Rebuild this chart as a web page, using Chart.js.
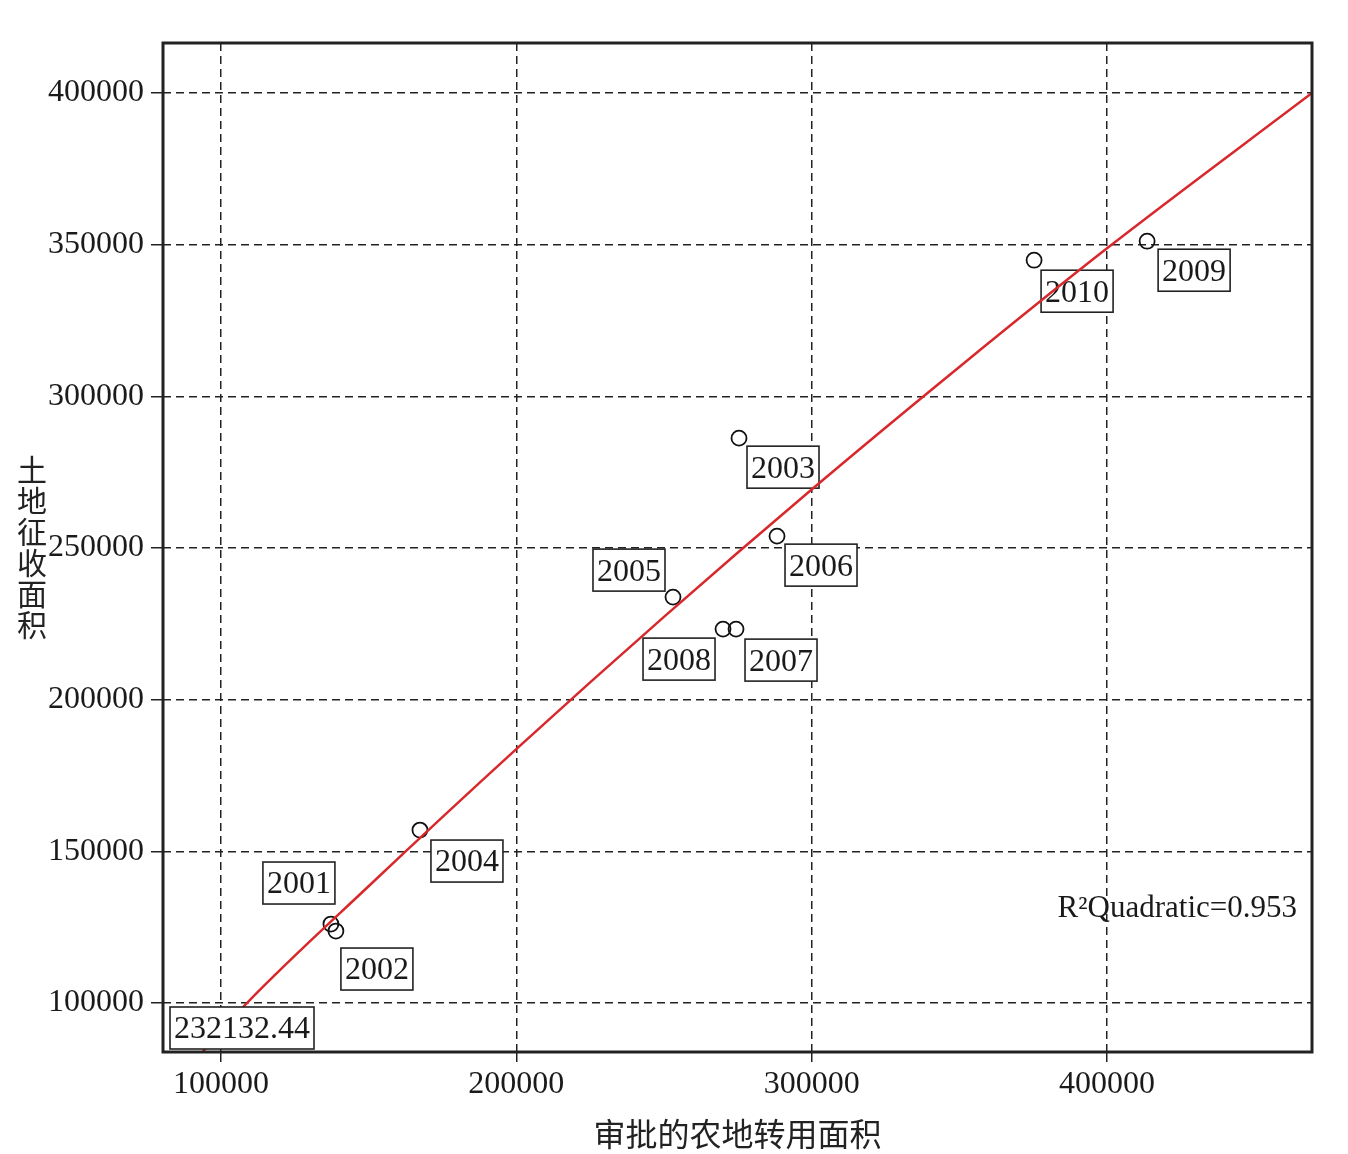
<!DOCTYPE html>
<html>
<head>
<meta charset="utf-8">
<script src="https://cdn.jsdelivr.net/npm/chart.js@4/dist/chart.umd.min.js"></script>
<style>
  html, body { margin: 0; padding: 0; background: #fff; }
  #wrap { width: 1348px; height: 1154px; }
</style>
</head>
<body>
<div id="wrap"><canvas id="landChart" width="1348" height="1154"></canvas></div>
<script>
const years = ['2001', '2002', '2003', '2004', '2005', '2006', '2007', '2008', '2009', '2010'];
const approvedArea = [137250, 138940, 275410, 167390, 253060, 288280, 274400, 270000, 413580, 375310];
const expropriatedArea = [126040, 123730, 286220, 157020, 233820, 253920, 223270, 223270, 351150, 344890];

// quadratic fit line
const fitX = [93900, 108800, 150000, 200000, 250000, 300000, 350000, 400000, 469400];
const fitY = [84000, 100000, 138500, 183700, 227300, 269300, 309700, 348800, 400000];

const xTicks = [100000, 200000, 300000, 400000];
const yTicks = [100000, 150000, 200000, 250000, 300000, 350000, 400000];

const xTitle = '审批的农地转用面积';
const yTitle = '土地征收面积';
const fitNote = 'R²Quadratic=0.953';
const startNote = '232132.44';

// label box offsets from each point (px)
const labelOffsets = [[-32, -41], [41, 38], [44, 29], [47, 31], [-44, -27], [44, 29], [45, 31], [-44, 30], [47, 29], [43, 31]];

const serif = "'Liberation Serif', 'Times New Roman', 'Noto Sans CJK SC', serif";
const cjk = "'Noto Sans CJK SC', 'Liberation Serif', sans-serif";

function drawBox(ctx, text, cx, cy, fill) {
    ctx.font = '32px ' + serif;
    const w = ctx.measureText(text).width + 8;
    const h = 42;
    if (fill) {
        ctx.fillStyle = '#fff';
        ctx.fillRect(cx - w / 2, cy - h / 2, w, h);
    }
    ctx.strokeStyle = '#222';
    ctx.lineWidth = 1.6;
    ctx.strokeRect(cx - w / 2, cy - h / 2, w, h);
    ctx.fillStyle = '#1a1a1a';
    ctx.textAlign = 'center';
    ctx.textBaseline = 'middle';
    ctx.fillText(text, cx, cy + 2);
}

const decorations = {
    id: 'decorations',
    beforeDatasetsDraw(chart) {
        const ctx = chart.ctx;
        const xs = chart.scales.x, ys = chart.scales.y;
        ctx.save();
        years.forEach((yr, i) => {
            const px = xs.getPixelForValue(approvedArea[i]);
            const py = ys.getPixelForValue(expropriatedArea[i]);
            drawBox(ctx, yr, px + labelOffsets[i][0], py + labelOffsets[i][1], true);
        });
        ctx.restore();
    },
    afterDatasetsDraw(chart) {
        const ctx = chart.ctx;
        const a = chart.chartArea;
        ctx.save();
        // first fit label
        ctx.font = '32px ' + serif;
        const w = ctx.measureText(startNote).width + 8;
        drawBox(ctx, startNote, a.left + 7 + w / 2, a.bottom - 24, true);

        // R² note
        ctx.fillStyle = '#1a1a1a';
        ctx.font = '31px ' + serif;
        ctx.textAlign = 'right';
        ctx.textBaseline = 'middle';
        ctx.fillText(fitNote, a.right - 15, a.bottom - 143);

        // frame
        ctx.strokeStyle = '#222';
        ctx.lineWidth = 3;
        ctx.strokeRect(a.left, a.top, a.right - a.left, a.bottom - a.top);
        ctx.restore();
    },
    afterDraw(chart) {
        const ctx = chart.ctx;
        const a = chart.chartArea;
        ctx.save();
        ctx.fillStyle = '#222';
        ctx.font = '30px ' + cjk;
        ctx.textAlign = 'center';
        ctx.textBaseline = 'middle';
        const cy = (a.top + a.bottom) / 2;
        [...yTitle].forEach((ch, i) => {
            ctx.fillText(ch, 32, cy + (i - 2.5) * 31);
        });
        ctx.font = '32px ' + cjk;
        ctx.fillText(xTitle, (a.left + a.right) / 2, 1134);
        ctx.restore();
    }
};

const ctxLand = document.getElementById('landChart').getContext('2d');

const landChart = new Chart(ctxLand, {
    type: 'scatter',
    data: {
        datasets: [{
            type: 'line',
            label: 'fit',
            data: fitX.map((x, i) => ({ x: x, y: fitY[i] })),
            borderColor: '#d8282c',
            borderWidth: 2.5,
            pointRadius: 0,
            fill: false,
            cubicInterpolationMode: 'monotone'
        }, {
            label: 'years',
            data: approvedArea.map((x, i) => ({ x: x, y: expropriatedArea[i] })),
            pointStyle: 'circle',
            pointRadius: 7.5,
            pointBorderWidth: 1.8,
            borderColor: '#111',
            backgroundColor: 'rgba(0,0,0,0)'
        }]
    },
    options: {
        responsive: false,
        animation: false,
        layout: {
            padding: { top: 43, right: 36, left: 0, bottom: 0 }
        },
        plugins: {
            legend: { display: false },
            tooltip: { enabled: false }
        },
        scales: {
            x: {
                type: 'linear',
                min: 80400,
                max: 469400,
                afterBuildTicks: function (scale) {
                    scale.ticks = xTicks.map(v => ({ value: v }));
                },
                afterFit: function (scale) {
                    scale.height = 102;
                },
                ticks: {
                    color: '#1a1a1a',
                    font: { family: serif, size: 32 },
                    padding: 3,
                    maxRotation: 0,
                    callback: v => String(v)
                },
                grid: {
                    color: '#222',
                    lineWidth: 1.5,
                    tickLength: 10,
                    tickColor: '#222'
                },
                border: { display: false, dash: [8, 5] }
            },
            y: {
                type: 'linear',
                min: 83850,
                max: 416500,
                afterBuildTicks: function (scale) {
                    scale.ticks = yTicks.map(v => ({ value: v }));
                },
                afterFit: function (scale) {
                    scale.width = 163;
                },
                ticks: {
                    color: '#1a1a1a',
                    font: { family: serif, size: 32 },
                    padding: 7,
                    callback: v => String(v)
                },
                grid: {
                    color: '#222',
                    lineWidth: 1.5,
                    tickLength: 12,
                    tickColor: '#222'
                },
                border: { display: false, dash: [8, 5] }
            }
        }
    },
    plugins: [decorations]
});
</script>
</body>
</html>
